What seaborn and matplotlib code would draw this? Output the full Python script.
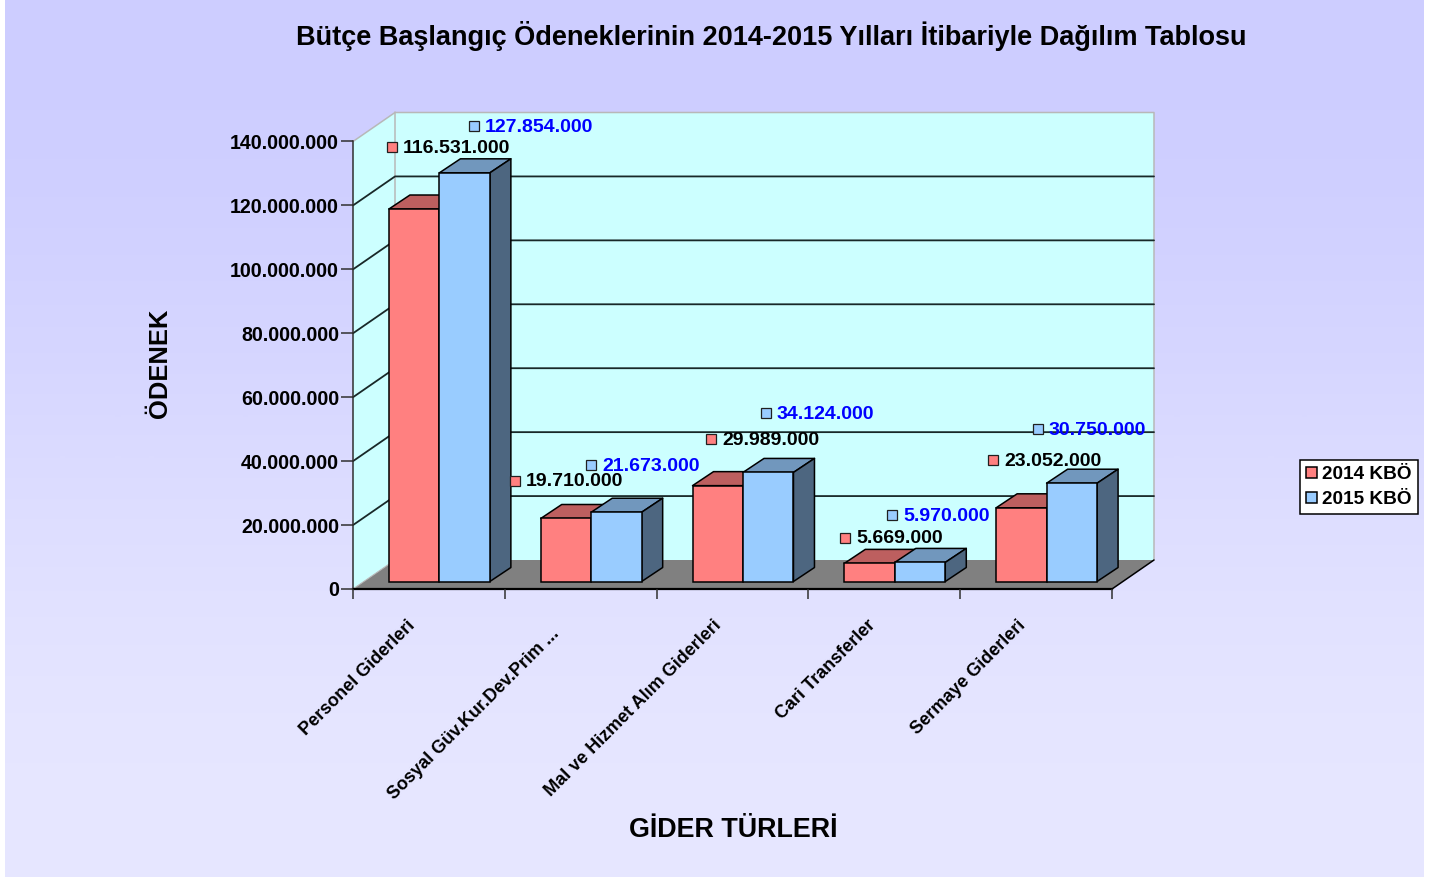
import matplotlib
matplotlib.use("Agg")
import matplotlib.pyplot as plt
import numpy as np
import pandas as pd
import seaborn as sns
from matplotlib.colors import LinearSegmentedColormap, to_rgb
from matplotlib.patches import Polygon
from matplotlib.ticker import FuncFormatter
from matplotlib.transforms import ScaledTranslation, offset_copy

# veriler
categories = ["Personel Giderleri", "Sosyal Güv.Kur.Dev.Prim ...", "Mal ve Hizmet Alım Giderleri",
              "Cari Transferler", "Sermaye Giderleri"]
values_2014 = [116531000, 19710000, 29989000, 5669000, 23052000]
values_2015 = [127854000, 21673000, 34124000, 5970000, 30750000]
years = ["2014 KBÖ", "2015 KBÖ"]
y_ticks = [0, 20000000, 40000000, 60000000, 80000000, 100000000, 120000000, 140000000]

# etiket kaymalari (piksel), cubuk tepesine gore
offsets_2014 = [(-22, 62), (-51, 37.5), (-6.7, 46.6), (-24.5, 25.4), (-28.3, 47.8)]
offsets_2015 = [(9.3, 46.8), (-25.5, 47.2), (-2.3, 59.4), (-28, 47.4), (-34, 54.2)]
# kategori etiketi kaymalari (piksel)
label_shifts = [(-22, 0), (-30, -8), (-20, 0), (-17, 0), (-19, 0)]

W, H = 1442, 880
WALL_DX, WALL_DY = 42, 29
BAR_DX, BAR_DY = 21, 14
COLORS = ["#FF8080", "#99CCFF"]
LABEL_COLORS = ["black", "#0000FF"]

sns.set_theme(style="white")
plt.rcParams["font.family"] = ["Liberation Sans", "DejaVu Sans"]
plt.rcParams["font.weight"] = "bold"

df = pd.DataFrame({
    "kategori": categories * 2,
    "odenek": values_2014 + values_2015,
    "yil": [years[0]] * 5 + [years[1]] * 5,
})

fig = plt.figure(figsize=(W / 100, H / 100), dpi=100, facecolor="white")

# arka plan gradyani
bg = fig.add_axes([5 / W, 3 / H, 1419 / W, 877 / H], zorder=0)
cmap = LinearSegmentedColormap.from_list("bg", ["#CCCCFF", "#E8E8FF"])
bg.imshow(np.array([[0.0], [1.0]]), cmap=cmap, aspect="auto", interpolation="bicubic")
bg.axis("off")

ax = fig.add_axes([353 / W, (H - 589) / H, 759 / W, 447.5 / H], zorder=1)
ax.patch.set_alpha(0)
sns.barplot(data=df, x="kategori", y="odenek", hue="yil", hue_order=years, palette=COLORS,
            width=0.665, gap=0, saturation=1, edgecolor="black", linewidth=1.1,
            legend=False, ax=ax)
ax.set_xlim(-0.5, 4.5)
ax.set_ylim(0, 140000000)

# piksel -> veri olcekleri
px_x = 5 / 759
px_y = 140000000 / 447.5
wall_dx = WALL_DX * px_x
wall_dy = WALL_DY * px_y
bar_dx = BAR_DX * px_x
bar_dy = BAR_DY * px_y
x0, x1 = ax.get_xlim()
y0, y1 = ax.get_ylim()


def add_poly(points, color, edge="none", lw=0.0, z=1.0, trans=None):
    poly = Polygon(points, closed=True, facecolor=color, edgecolor=edge, linewidth=lw,
                   zorder=z, clip_on=False, transform=trans if trans is not None else ax.transData,
                   joinstyle="round")
    ax.add_patch(poly)


def shade(color, factor):
    return tuple(c * factor for c in to_rgb(color))


# duvarlar ve taban
add_poly([(x0, y0), (x0 + wall_dx, y0 + wall_dy), (x1 + wall_dx, y0 + wall_dy),
          (x1 + wall_dx, y1 + wall_dy), (x0 + wall_dx, y1 + wall_dy), (x0, y1)],
         "#CCFFFF", z=0.2)
add_poly([(x0, y0), (x0 + wall_dx, y0 + wall_dy), (x1 + wall_dx, y0 + wall_dy), (x1, y0)],
         "#808080", z=0.3)
ax.plot([x0, x0 + wall_dx, x1 + wall_dx, x1 + wall_dx],
        [y1, y1 + wall_dy, y1 + wall_dy, y0 + wall_dy],
        color="#B8B8B8", lw=1.1, zorder=0.4, clip_on=False)
ax.plot([x0 + wall_dx, x0 + wall_dx], [y0 + wall_dy, y1 + wall_dy],
        color="#B8B8B8", lw=1.1, zorder=0.4, clip_on=False)
ax.plot([x0, x0 + wall_dx], [y0, y0 + wall_dy], color="#B8B8B8", lw=0.8, zorder=0.4, clip_on=False)
ax.plot([x1, x1 + wall_dx], [y0, y0 + wall_dy], color="black", lw=1.1, zorder=0.4, clip_on=False)
for tick in y_ticks[1:-1]:
    ax.plot([x0, x0 + wall_dx, x1 + wall_dx], [tick, tick + wall_dy, tick + wall_dy],
            color="#182828", lw=1.3, zorder=0.4, clip_on=False)

# 3B cubuklar
bar_trans = offset_copy(ax.transData, fig, x=(WALL_DX - BAR_DX) / 2, y=(WALL_DY - BAR_DY) / 2,
                        units="dots")
offsets = [offsets_2014, offsets_2015]
for s, container in enumerate(ax.containers):
    for i, bar in enumerate(container):
        left, width, top = bar.get_x(), bar.get_width(), bar.get_height()
        right = left + width
        z = 2 + s + i * 3
        bar.set_transform(bar_trans)
        bar.set_zorder(z + 0.5)
        bar.set_clip_on(False)
        add_poly([(left, top), (left + bar_dx, top + bar_dy), (right + bar_dx, top + bar_dy), (right, top)],
                 shade(COLORS[s], 0.74), "black", 1.1, z, bar_trans)
        add_poly([(right, 0), (right + bar_dx, bar_dy), (right + bar_dx, top + bar_dy), (right, top)],
                 shade(COLORS[s], 0.5), "black", 1.1, z, bar_trans)

        # deger etiketi
        dx, dy = offsets[s][i]
        mid = left + width / 2
        ax.plot([mid], [top], marker="s", ms=6.5, mfc=COLORS[s], mec="#202020", mew=0.9, ls="none",
                clip_on=False, zorder=40,
                transform=offset_copy(bar_trans, fig, x=dx, y=dy, units="dots"))
        label = f"{top:,.0f}".replace(",", ".")
        ax.annotate(label, xy=(mid, top), xycoords=bar_trans, xytext=(dx + 11, dy + 1),
                    textcoords="offset pixels", va="center_baseline", ha="left", fontsize=14,
                    fontweight="bold", color=LABEL_COLORS[s], zorder=41, annotation_clip=False)

# eksenler
for side in ["top", "right"]:
    ax.spines[side].set_visible(False)
ax.spines["left"].set_linewidth(1.1)
ax.spines["left"].set_color("#303030")
ax.spines["bottom"].set_linewidth(1.6)
ax.spines["bottom"].set_color("black")
ax.spines["left"].set_zorder(0.5)
ax.spines["bottom"].set_zorder(0.5)

ax.set_yticks(y_ticks)
ax.yaxis.set_major_formatter(FuncFormatter(lambda v, _: f"{v:,.0f}".replace(",", ".")))
ax.tick_params(axis="y", which="major", left=True, length=8.6, width=1.1, color="#303030",
               pad=1.5, labelsize=14.1, labelcolor="black")

ax.set_xticks(np.arange(-0.5, 5, 1))
ax.set_xticklabels([])
ax.tick_params(axis="x", which="major", bottom=True, length=7.2, width=1.1, color="#303030")
ax.set_xticks(np.arange(5), labels=categories, minor=True)
ax.tick_params(axis="x", which="minor", bottom=False, length=0, pad=20)
for lbl, (sx, sy) in zip(ax.get_xticklabels(minor=True), label_shifts):
    lbl.set(rotation=45, ha="right", va="top", rotation_mode="anchor", fontsize=13,
            fontweight="bold", color="black")
    lbl.set_transform(lbl.get_transform() + ScaledTranslation(sx / 100, sy / 100, fig.dpi_scale_trans))

ax.set_xlabel("")
ax.set_ylabel("")
ax.grid(False)

fig.text(771.5 / W, 1 - 36 / H, "Bütçe Başlangıç Ödeneklerinin 2014-2015 Yılları İtibariyle Dağılım Tablosu",
         ha="center", va="center", fontsize=19.5, fontweight="bold", color="black")
fig.text(733 / W, 1 - 830 / H, "GİDER TÜRLERİ", ha="center", va="center", fontsize=19.4,
         fontweight="bold", color="black")
fig.text(160 / W, 1 - 363 / H, "ÖDENEK", ha="center", va="center", rotation=90, fontsize=18.4,
         fontweight="bold", color="black")

handles = [c[0] for c in ax.containers]
leg = fig.legend(handles, years, loc="upper left", bbox_to_anchor=(1300 / W, 1 - 460 / H),
                 fancybox=False, framealpha=1, edgecolor="black", facecolor="white",
                 fontsize=13.7, handlelength=0.55, handleheight=0.55, handletextpad=0.3,
                 labelspacing=0.42, borderpad=0.32, borderaxespad=0, labelcolor="black")
leg.get_frame().set_linewidth(1.1)

fig.savefig("out.png", dpi=100, facecolor="white")
